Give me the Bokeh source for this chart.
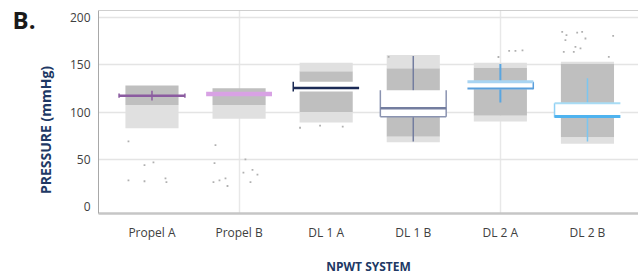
from bokeh.plotting import figure
from bokeh.models import FixedTicker, Span, Range1d, ColumnDataSource, LinearAxis
from bokeh.embed import file_html
from bokeh.resources import INLINE

# ---------------- data ----------------
categories = ["Propel A", "Propel B", "DL 1 A", "DL 1 B", "DL 2 A", "DL 2 B"]
y_ticks = [0, 50, 100, 150, 200]

# dense gray point clouds (mmHg): sparse top, dense top, dense bottom, sparse bottom
cloud_top = [128, 125, 152, 160, 152, 153]
core_hi = [128, 125, 143, 146, 147, 151]
core_lo = [107.5, 107.5, 100, 74, 96, 73]
cloud_bottom = [83, 93, 89, 68, 90, 66.5]

# box plot statistics (mmHg)
NaN = float("nan")
box_lo = [115, 119, 121.5, 95, 124, 94.3]
box_hi = [119.5, 119, 132, 123, 132, 109.3]
median = [117, 119, 125.4, 104, 124.7, 95.3]
whisk_lo = [112, NaN, NaN, 69, 110, 69]
whisk_hi = [122.5, NaN, NaN, 159, 150.5, 135.5]

# isolated outlying readings (x as category position)
outlier_x = [0.73, 0.914, 1.017, 0.73, 0.914, 1.155, 1.166,
             1.729, 1.718, 2.073, 1.706, 1.775, 1.844, 1.867, 2.05, 2.154, 2.211, 2.131,
             2.70, 2.93, 3.19, 3.717,
             5.101, 5.173, 5.254, 4.978,
             5.71, 5.759, 5.882, 5.939, 6.295, 5.747, 5.862, 5.92, 5.728, 5.843, 6.245, 5.977]
outlier_y = [69, 44, 47, 28, 27, 30, 26,
             65, 46, 50, 26, 28, 30, 22, 36, 39, 34, 26,
             83.4, 85.6, 84.5, 158.2,
             164.5, 164.5, 165, 158,
             184.4, 181, 183.7, 184.4, 180.2, 175.7, 168.7, 167, 163.4, 163.4, 158.2, 177.5]

# ---------------- styles ----------------
NAVY = "#203864"
med_color = ["#8b5ba0", "#d8a2e4", "#1b2a55", "#737d9f", "#5a9fdc", "#4fb3ef"]
med_width = [2.5, 4.5, 2.5, 2.5, 2.0, 3.0]
whisk_color = ["#8b5ba0", "#d8a2e4", "#1b2a55", "#737d9f", "#5aa6e0", "#7cc6f0"]
whisk_width = [1.5, 1.5, 1.5, 1.5, 2.0, 1.5]
box_filled = [False, False, True, True, True, True]
left_side = [True, False, True, True, False, True]
right_side = [True, False, False, True, True, False]
side_color = ["#8b5ba0", "#d8a2e4", "#1b2a55", "#8a93b0", "#5a9fdc", "#8fd0f5"]
top_edge = [None, None, None, None, ("#a8d4f2", 3), ("#a8dcf5", 2)]
bottom_edge = [None, None, None, ("#8a93b0", 1.5), None, None]
HW = 0.378   # half width of box
GW = 0.305   # half width of cloud

xs = [i + 1 for i in range(len(categories))]

p = figure(width=638, height=277, output_backend="svg", toolbar_location=None,
           x_range=Range1d(0.386, 6.586), y_range=Range1d(-7, 207),
           min_border_left=98, min_border_right=0, min_border_top=10, min_border_bottom=63)
p.outline_line_color = None
p.background_fill_color = "white"
p.border_fill_color = "white"

# grids
p.ygrid.ticker = FixedTicker(ticks=[50, 100, 150, 200])
p.ygrid.grid_line_color = "#e4e4e4"
p.ygrid.grid_line_width = 1.5
p.xgrid.ticker = FixedTicker(ticks=[2, 5])
p.xgrid.grid_line_color = "#e8e8e8"
p.xgrid.grid_line_width = 1.5

# axes
p.xaxis.ticker = FixedTicker(ticks=xs)
p.xaxis.major_label_overrides = {x: c for x, c in zip(xs, categories)}
p.yaxis.ticker = FixedTicker(ticks=y_ticks)
for ax in (p.xaxis, p.yaxis):
    ax.major_tick_in = 0
    ax.major_tick_out = 0
    ax.minor_tick_line_color = None
    ax.major_tick_line_color = None
    ax.major_label_text_font = "Open Sans"
    ax.major_label_text_font_size = "12px"
    ax.major_label_text_color = "#404040"
p.xaxis.axis_line_color = "#c6c6c6"
p.xaxis.axis_line_width = 2.5
p.xaxis.major_label_standoff = 10
p.xaxis.axis_label = "NPWT SYSTEM"
p.xaxis.axis_label_text_font = "Open Sans"
p.xaxis.axis_label_text_font_style = "bold"
p.xaxis.axis_label_text_font_size = "12px"
p.xaxis.axis_label_text_color = NAVY
p.xaxis.axis_label_standoff = 14
p.yaxis.axis_line_color = "#a8a8a8"
p.yaxis.axis_line_width = 1
p.yaxis.major_label_standoff = 8


def title_axis(text, at, size, color, standoff, orientation):
    # a tick-free axis whose single tick label acts as a positioned title
    ax = LinearAxis(ticker=FixedTicker(ticks=[at]), major_label_overrides={at: text},
                    axis_line_color=None, major_tick_line_color=None,
                    minor_tick_line_color=None, major_tick_in=0, major_tick_out=0,
                    major_label_standoff=standoff, major_label_orientation=orientation,
                    major_label_text_font="Open Sans", major_label_text_font_style="bold",
                    major_label_text_font_size=size, major_label_text_color=color)
    p.add_layout(ax, "left")


title_axis("PRESSURE (mmHg)", 81, "14px", NAVY, 11, "vertical")
title_axis("B.", 198, "24px", "#1a1a1a", -2, "horizontal")

p.add_layout(Span(location=207, dimension="width", line_color="#a0a0a0", line_width=1))

# gray clouds
src_cloud = ColumnDataSource(dict(
    l=[x - GW for x in xs], r=[x + GW for x in xs],
    top=cloud_top, bottom=cloud_bottom, hi=core_hi, lo=core_lo))
p.quad(left="l", right="r", top="hi", bottom="lo", source=src_cloud,
       fill_color="#bfbfbf", line_color=None)
p.quad(left="l", right="r", top="top", bottom="hi", source=src_cloud,
       fill_color="#e0e0e0", line_color=None)
p.quad(left="l", right="r", top="lo", bottom="bottom", source=src_cloud,
       fill_color="#e0e0e0", line_color=None)
p.scatter(outlier_x, outlier_y, size=1.8, color="#b0b0b0", marker="square", line_color=None)

# whiskers
p.segment(x0=xs, y0=whisk_lo, x1=xs, y1=whisk_hi, line_color=whisk_color, line_width=whisk_width)

# white box fill
fi = [i for i in range(6) if box_filled[i]]
p.quad(left=[xs[i] - HW for i in fi], right=[xs[i] + HW for i in fi],
       top=[box_hi[i] for i in fi], bottom=[box_lo[i] for i in fi],
       fill_color="white", line_color=None)

# box sides
sx, sy0, sy1, sc = [], [], [], []
for i in range(6):
    if left_side[i]:
        sx.append(xs[i] - HW); sy0.append(box_lo[i]); sy1.append(box_hi[i]); sc.append(side_color[i])
    if right_side[i]:
        sx.append(xs[i] + HW); sy0.append(box_lo[i]); sy1.append(box_hi[i]); sc.append(side_color[i])
p.segment(x0=sx, y0=sy0, x1=sx, y1=sy1, line_color=sc, line_width=1.5)

# top / bottom edges
for i in range(6):
    if top_edge[i]:
        c, w = top_edge[i]
        p.segment(x0=[xs[i] - HW], y0=[box_hi[i]], x1=[xs[i] + HW], y1=[box_hi[i]], line_color=c, line_width=w)
    if bottom_edge[i]:
        c, w = bottom_edge[i]
        p.segment(x0=[xs[i] - HW], y0=[box_lo[i]], x1=[xs[i] + HW], y1=[box_lo[i]], line_color=c, line_width=w)

# medians
p.segment(x0=[x - HW for x in xs], y0=median, x1=[x + HW for x in xs], y1=median,
          line_color=med_color, line_width=med_width)

open("out.html", "w").write(file_html(p, INLINE))
